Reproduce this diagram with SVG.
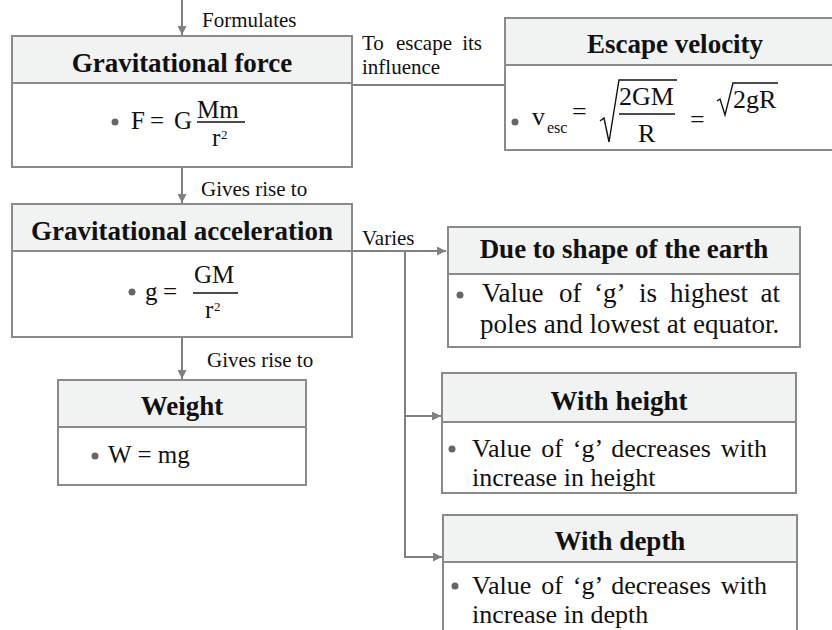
<svg xmlns="http://www.w3.org/2000/svg" width="832" height="630" viewBox="0 0 832 630">
<style>
text{font-family:"Liberation Serif","Times New Roman",Times,"Noto Serif","DejaVu Serif",serif;fill:#111}
.box{fill:#ffffff;stroke:#8a8a8a;stroke-width:2}
.hdr{fill:#f1f2f2;stroke:#8a8a8a;stroke-width:2}
.t{font-weight:bold;font-size:27px;text-anchor:middle}
.b{font-size:27px}
.b2{font-size:26px}
.m{font-size:25px}
.m26{font-size:26px}
.sup{font-size:13px}
.sub{font-size:16px}
.l{font-size:21px}
.c{stroke:#808080;stroke-width:2;fill:none}
.dot{fill:#666}
.fl{stroke:#111;stroke-width:1.3}
.rad{stroke:#111;stroke-width:1.4;fill:none}
</style>
<defs>
<marker id="ah" viewBox="0 0 10 10" refX="10" refY="5" markerWidth="10" markerHeight="9" markerUnits="userSpaceOnUse" orient="auto">
<path d="M0,0 L10,5 L0,10 z" fill="#808080"/>
</marker>
</defs>
<rect width="832" height="630" fill="#ffffff"/>

<g id="connectors">
<line class="c" x1="182" y1="0" x2="182" y2="35" marker-end="url(#ah)"/>
<line class="c" x1="352" y1="85" x2="505" y2="85"/>
<line class="c" x1="182" y1="167" x2="182" y2="203" marker-end="url(#ah)"/>
<line class="c" x1="182" y1="337" x2="182" y2="379" marker-end="url(#ah)"/>
<line class="c" x1="352" y1="251" x2="446" y2="251" marker-end="url(#ah)"/>
<polyline class="c" points="405,251 405,557 442,557" marker-end="url(#ah)"/>
<line class="c" x1="405" y1="416" x2="441" y2="416" marker-end="url(#ah)"/>
<text class="l" x="202" y="27">Formulates</text>
<text class="l" x="201" y="196">Gives rise to</text>
<text class="l" x="207" y="367">Gives rise to</text>
<text class="l" x="362" y="245">Varies</text>
<text class="l" x="362" y="50">To</text>
<text class="l" x="396" y="50">escape</text>
<text class="l" x="482" y="50" text-anchor="end">its</text>
<text class="l" x="362" y="74">influence</text>
</g>

<g id="gravitational-force">
<rect class="box" x="12" y="36" width="340" height="131"/>
<rect class="hdr" x="12" y="36" width="340" height="47"/>
<text class="t" x="182" y="72">Gravitational force</text>
<circle class="dot" cx="115" cy="122" r="3.5"/>
<text class="m" x="131" y="129">F</text>
<text class="m" x="150" y="129">=</text>
<text class="m" x="174" y="129">G</text>
<text class="m" x="197" y="118">Mm</text>
<line class="fl" x1="197" y1="122" x2="245" y2="122"/>
<text class="m" x="212" y="146">r</text>
<text class="sup" x="221" y="139">2</text>
</g>

<g id="escape-velocity">
<rect class="box" x="505" y="18" width="340" height="132"/>
<rect class="hdr" x="505" y="18" width="340" height="47"/>
<text class="t" x="675" y="53">Escape velocity</text>
<circle class="dot" cx="515" cy="122" r="3.5"/>
<text class="m26" x="532" y="125">v</text>
<text class="sub" x="547" y="133">esc</text>
<text class="m26" x="572" y="120">=</text>
<path class="rad" d="M600,121 L604,118 L609,142 L619,80 L677,80"/>
<text class="m26" x="619" y="105">2GM</text>
<line class="fl" x1="619" y1="114" x2="675" y2="114"/>
<text class="m26" x="638" y="142">R</text>
<text class="m26" x="690" y="128">=</text>
<path class="rad" d="M717,101 L720,99 L725,115 L733,83 L778,83"/>
<text class="m26" x="733" y="108">2gR</text>
</g>

<g id="gravitational-acceleration">
<rect class="box" x="12" y="204" width="340" height="133"/>
<rect class="hdr" x="12" y="204" width="340" height="47"/>
<text class="t" x="182" y="240">Gravitational acceleration</text>
<circle class="dot" cx="132" cy="292" r="3.5"/>
<text class="m" x="145" y="300">g</text>
<text class="m" x="163" y="300">=</text>
<text class="m" x="194" y="283">GM</text>
<line class="fl" x1="193" y1="293" x2="238" y2="293"/>
<text class="m" x="205" y="318">r</text>
<text class="sup" x="214" y="311">2</text>
</g>

<g id="weight">
<rect class="box" x="58" y="380" width="248" height="105"/>
<rect class="hdr" x="58" y="380" width="248" height="47"/>
<text class="t" x="182" y="415">Weight</text>
<circle class="dot" cx="95" cy="456" r="3.5"/>
<text class="m" x="108" y="463">W = mg</text>
</g>

<g id="due-to-shape">
<rect class="box" x="448" y="227" width="352" height="120"/>
<rect class="hdr" x="448" y="227" width="352" height="47"/>
<text class="t" x="624" y="258">Due to shape of the earth</text>
<circle class="dot" cx="460" cy="295" r="3.5"/>
<text class="b" y="302"><tspan x="482">Value</tspan><tspan x="559">of</tspan><tspan x="594">‘g’</tspan><tspan x="639">is</tspan><tspan x="670">highest</tspan></text>
<text class="b" x="780" y="302" text-anchor="end">at</text>
<text class="b" x="480" y="333">poles and lowest at equator.</text>
</g>

<g id="with-height">
<rect class="box" x="442" y="373" width="354" height="120"/>
<rect class="hdr" x="442" y="373" width="354" height="49"/>
<text class="t" x="619" y="410">With height</text>
<circle class="dot" cx="452" cy="449" r="3.5"/>
<text class="b2" x="472" y="457" word-spacing="3.5">Value of ‘g’ decreases with</text>
<text class="b2" x="472" y="486">increase in height</text>
</g>

<g id="with-depth">
<rect class="box" x="443" y="515" width="354" height="130"/>
<rect class="hdr" x="443" y="515" width="354" height="47"/>
<text class="t" x="620" y="550">With depth</text>
<circle class="dot" cx="455" cy="586" r="3.5"/>
<text class="b2" x="472" y="594" word-spacing="3.5">Value of ‘g’ decreases with</text>
<text class="b2" x="472" y="623">increase in depth</text>
</g>
</svg>
